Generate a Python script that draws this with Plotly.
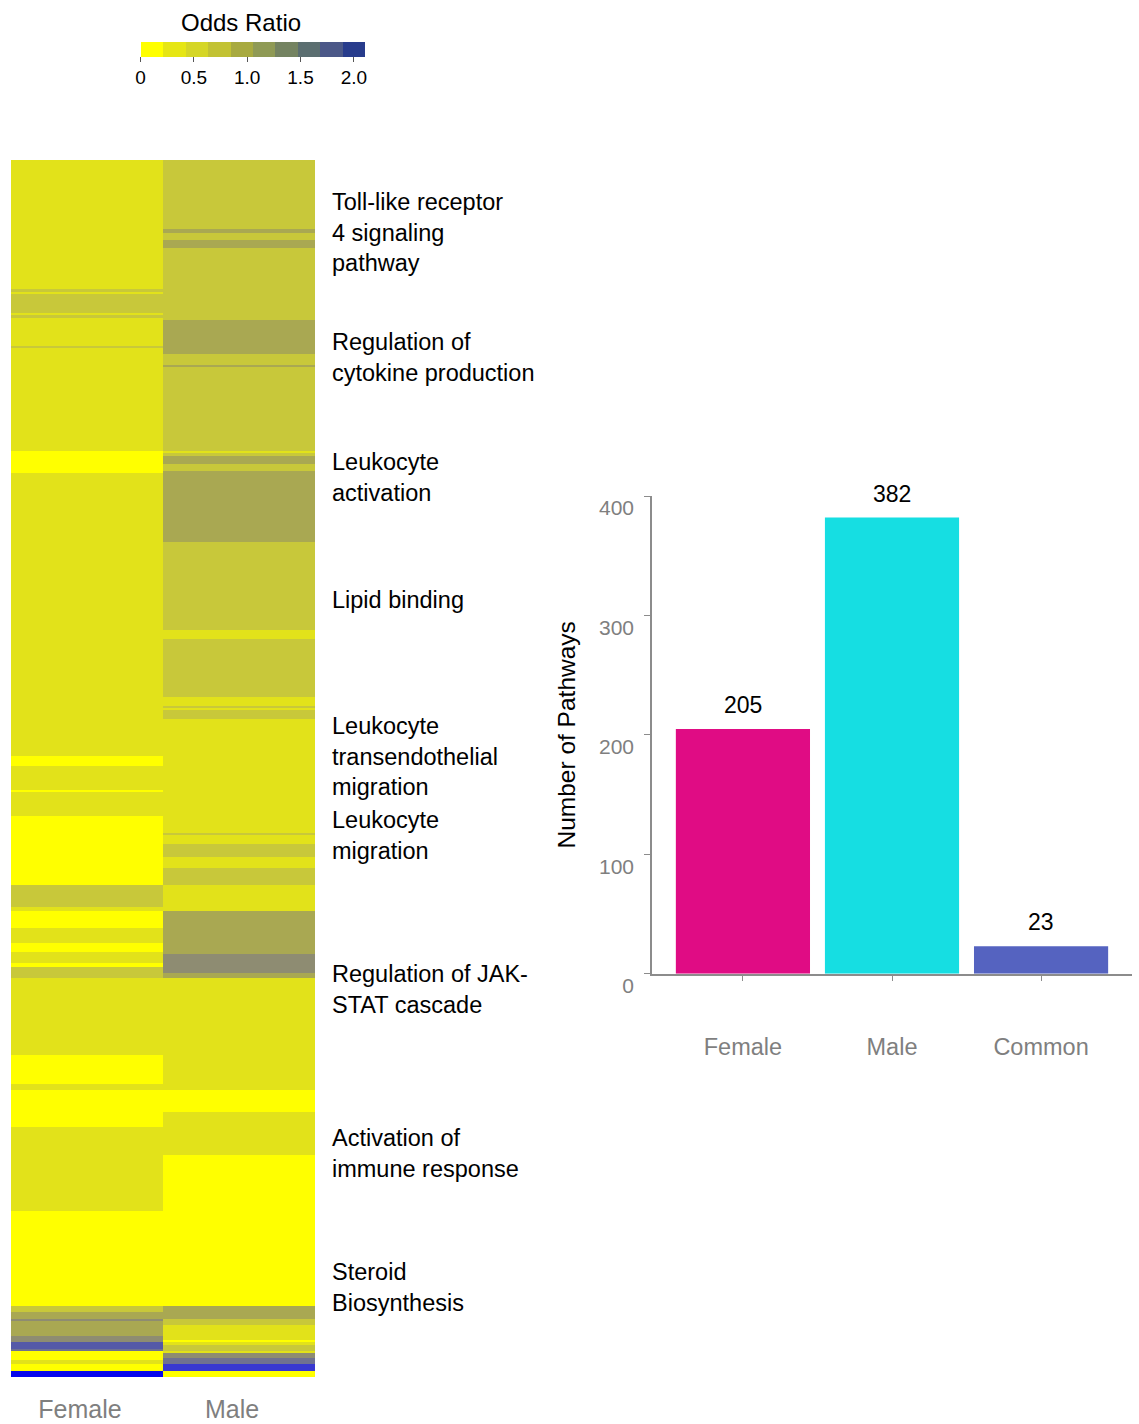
import plotly.graph_objects as go

# ---------------- data ----------------
heat_columns = ["Female", "Male"]

# run-length encoded heatmap columns (number of pathway rows, odds ratio)
female_counts = [60, 1, 1, 9, 1, 1, 13, 1, 48, 10, 131, 5, 11, 1, 11, 32, 10, 2, 8, 7,
                 4, 5, 2, 5, 36, 13, 3, 17, 39, 44, 3, 3, 1, 7, 3, 3, 1, 4, 2, 3, 3]
female_or = [0.30, 0.55, 0.30, 0.55, 0.30, 0.55, 0.30, 0.55, 0.30, 0.05, 0.30, 0.05,
             0.30, 0.05, 0.30, 0.05, 0.55, 0.30, 0.05, 0.30, 0.05, 0.30, 0.05, 0.55,
             0.30, 0.05, 0.30, 0.05, 0.30, 0.05, 0.55, 0.85, 1.15, 0.85, 1.15, 1.60,
             1.40, 0.05, 0.30, 0.05, 2.20]

male_counts = [32, 2, 3, 4, 33, 16, 5, 1, 39, 1, 1, 4, 3, 33, 41, 4, 27, 4, 1, 1, 4, 53,
               1, 4, 6, 5, 8, 12, 20, 9, 2, 52, 10, 20, 70, 6, 3, 7, 1, 1, 3, 1, 2, 3, 3, 3]
male_or = [0.55, 0.85, 0.55, 0.85, 0.55, 0.85, 0.55, 0.85, 0.55, 0.30, 0.55, 0.85, 0.55,
           0.85, 0.55, 0.30, 0.55, 0.30, 0.55, 0.30, 0.55, 0.30, 0.55, 0.30, 0.55, 0.30,
           0.55, 0.30, 0.85, 1.15, 0.85, 0.30, 0.05, 0.30, 0.05, 0.85, 0.55, 0.30, 0.05,
           0.30, 0.55, 0.30, 1.15, 1.40, 1.90, 0.05]

pathway_labels = [
    "Toll-like receptor<br>4 signaling<br>pathway",
    "Regulation of<br>cytokine production",
    "Leukocyte<br>activation",
    "Lipid binding",
    "Leukocyte<br>transendothelial<br>migration",
    "Leukocyte<br>migration",
    "Regulation of JAK-<br>STAT cascade",
    "Activation of<br>immune response",
    "Steroid<br>Biosynthesis",
]
pathway_label_rows = [33, 91, 146.5, 203.5, 276, 312.5, 384, 460, 522]

# heatmap colour bins (odds ratio)
heat_edges = [0, 0.2, 0.4, 0.7, 1.0, 1.3, 1.5, 1.75, 2.0, 2.4]
heat_colors = ["#FFFF00", "#E2E21A", "#C8C83A", "#A9A852", "#8E8C72",
               "#6F7190", "#5559A8", "#3838D0", "#0808EC"]

# colour key bins
key_title = "Odds Ratio"
key_edges = [0, 0.21, 0.42, 0.63, 0.84, 1.05, 1.26, 1.47, 1.68, 1.89, 2.1]
key_colors = ["#FFFF00", "#E6E614", "#D5D626", "#C2C233", "#A8AA40",
              "#8F9A55", "#748361", "#5B6E70", "#4B5888", "#283C8C"]
key_tickvals = [0, 0.5, 1.0, 1.5, 2.0]
key_ticktext = ["0", "0.5", "1.0", "1.5", "2.0"]

bar_categories = ["Female", "Male", "Common"]
bar_values = [205, 382, 23]
bar_colors = ["#E00C84", "#16DEE2", "#5563C0"]

# ---------------- helpers ----------------
def expand(counts, vals):
    out = []
    for c, v in zip(counts, vals):
        out.extend([v] * c)
    return out

def stepped(edges, colors):
    lo, hi = edges[0], edges[-1]
    scale = []
    for i, c in enumerate(colors):
        scale.append([(edges[i] - lo) / (hi - lo), c])
        scale.append([(edges[i + 1] - lo) / (hi - lo), c])
    return scale

fcol = expand(female_counts, female_or)
mcol = expand(male_counts, male_or)
n_rows = len(fcol)
z = [[f, m] for f, m in zip(fcol, mcol)]

W, H = 1139, 1424
FONT = "Arial, Liberation Sans, Helvetica, sans-serif"

fig = go.Figure()

fig.add_trace(go.Heatmap(
    z=z, x=heat_columns, y=list(range(n_rows)),
    zmin=heat_edges[0], zmax=heat_edges[-1],
    colorscale=stepped(heat_edges, heat_colors),
    showscale=False, xaxis="x", yaxis="y",
    hovertemplate="%{x}<br>Odds ratio %{z}<extra></extra>",
))

# colour key (Odds Ratio)
fig.add_trace(go.Scatter(
    x=[None], y=[None], mode="markers", xaxis="x", yaxis="y",
    showlegend=False, hoverinfo="skip", name=key_title,
    marker=dict(
        color=[0], cmin=key_edges[0], cmax=key_edges[-1],
        colorscale=stepped(key_edges, key_colors), showscale=True,
        colorbar=dict(
            orientation="h", x=252.5 / W, xanchor="center",
            y=1 - 42 / H, yanchor="top",
            len=224, lenmode="pixels", thickness=15,
            xpad=0, ypad=0, outlinewidth=0,
            tickvals=key_tickvals, ticktext=key_ticktext,
            ticks="outside", ticklen=5, tickcolor="#555555",
            tickfont=dict(size=19, color="black", family=FONT),
        ),
    ),
))
fig.add_annotation(x=241 / W, y=1 - 22 / H, xref="paper", yref="paper", text=key_title,
                   showarrow=False, xanchor="center", yanchor="middle",
                   font=dict(size=24, color="black", family=FONT))

fig.add_trace(go.Bar(
    x=bar_categories, y=bar_values, marker=dict(color=bar_colors, line=dict(width=0)),
    xaxis="x2", yaxis="y2", showlegend=False,
))

for cat, val in zip(bar_categories, bar_values):
    fig.add_annotation(x=cat, y=val, xref="x2", yref="y2", text=str(val),
                       showarrow=False, yshift=24,
                       font=dict(size=23, color="black", family=FONT))

for lab, row in zip(pathway_labels, pathway_label_rows):
    fig.add_annotation(x=330 / W, y=row, xref="paper", yref="y", text=lab,
                       showarrow=False, xanchor="left", yanchor="middle", align="left",
                       font=dict(size=23.5, color="black", family=FONT))

fig.update_layout(
    width=W, height=H, margin=dict(l=0, r=0, t=0, b=0, autoexpand=False), autosize=False,
    paper_bgcolor="white", plot_bgcolor="white",
    font=dict(family=FONT),
    bargap=0.1,
    xaxis=dict(domain=[11 / W, 315 / W], showgrid=False, zeroline=False, showline=False,
               ticks="", tickfont=dict(size=25, color="#7F7F7F", family=FONT),
               ticklabelstandoff=15, ticklabelshift=-7, fixedrange=True),
    yaxis=dict(domain=[1 - 1377 / H, 1 - 160 / H], range=[n_rows - 0.5, -0.5],
               showgrid=False, zeroline=False, showticklabels=False, ticks="",
               showline=False),
    xaxis2=dict(domain=[652 / W, 1132 / W], range=[-0.61, 2.61], anchor="y2",
                showgrid=False, zeroline=False, showline=True, linecolor="#8C8C8C",
                linewidth=1.5, ticks="outside", ticklen=6, tickcolor="#8C8C8C",
                tickfont=dict(size=23.5, color="#7F7F7F", family=FONT),
                ticklabelstandoff=45),
    yaxis2=dict(domain=[1 - 973.7 / H, 1 - 496 / H], range=[0, 400], anchor="x2",
                showgrid=False, zeroline=False, showline=True, linecolor="#8C8C8C",
                linewidth=1.5, ticks="outside", ticklen=6, tickcolor="#8C8C8C",
                tickvals=[0, 100, 200, 300, 400],
                tickfont=dict(size=21, color="#7F7F7F", family=FONT),
                ticklabelshift=12, ticklabelstandoff=6,
                title=dict(text="Number of Pathways", standoff=16,
                           font=dict(size=24.5, color="black", family=FONT))),
)

fig.write_html("out.html")
